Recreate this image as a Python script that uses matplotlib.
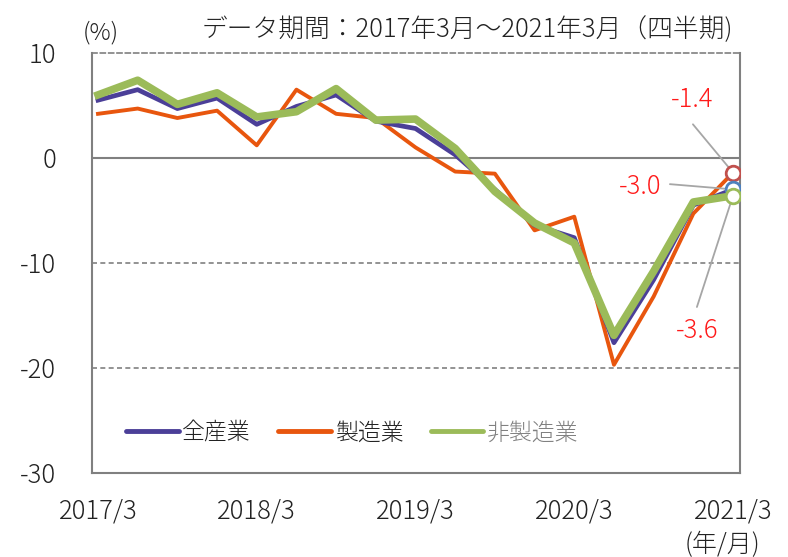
import matplotlib
matplotlib.use("Agg")
import matplotlib.pyplot as plt

plt.rcParams["font.family"] = ["Noto Sans CJK JP", "DejaVu Sans"]
plt.rcParams["font.weight"] = "light"

# data (quarterly, 2017/3 .. 2021/3)
quarters = ["2017/3", "2017/6", "2017/9", "2017/12",
            "2018/3", "2018/6", "2018/9", "2018/12",
            "2019/3", "2019/6", "2019/9", "2019/12",
            "2020/3", "2020/6", "2020/9", "2020/12",
            "2021/3"]
all_ind = [5.5, 6.5, 4.7, 5.7, 3.2, 4.9, 6.0, 3.5, 2.8, 0.3, -3.0, -6.4,
           -7.6, -17.6, -11.6, -4.5, -3.0]
manuf = [4.2, 4.7, 3.8, 4.5, 1.2, 6.5, 4.2, 3.8, 1.0, -1.3, -1.5, -6.9,
         -5.6, -19.7, -13.2, -5.3, -1.4]
non_manuf = [6.0, 7.4, 5.1, 6.2, 3.9, 4.4, 6.6, 3.6, 3.7, 0.9, -3.2, -6.2,
             -8.1, -16.9, -10.8, -4.2, -3.6]
tick_labels = ["2017/3", "2018/3", "2019/3", "2020/3", "2021/3"]

c_all = "#4B3F98"
c_man = "#E8560E"
c_non = "#9BBB59"
grey = "#808080"
txt = "#222222"

fig = plt.figure(figsize=(7.88, 5.57), dpi=100)
ax = fig.add_axes([0.1168, 0.151, 0.8225, 0.754])

x = list(range(len(quarters)))
ax.plot(x, manuf, color=c_man, lw=2.8, label="製造業", zorder=3)
ax.plot(x, all_ind, color=c_all, lw=3.4, label="全産業", zorder=4)
ax.plot(x, non_manuf, color=c_non, lw=5.5, label="非製造業", zorder=5)

last = len(quarters) - 1
for vals, mc in [(manuf, "#C0504D"), (all_ind, "#4F81BD"), (non_manuf, "#9BBB59")]:
    ax.plot(last, vals[-1], "o", ms=10.5, mfc="white", mec=mc, mew=2, zorder=6)

ax.axhline(0, color=grey, lw=1.5, zorder=2)
for yv in (-10, -20):
    ax.axhline(yv, color=grey, lw=1.2, ls=(0, (3, 2)), zorder=1)

ax.set_xlim(-0.15, 16.18)
ax.set_ylim(-30, 10)
ax.set_yticks([10, 0, -10, -20, -30])
ax.set_yticklabels(["10", "0", "-10", "-20", "-30"])
ax.set_xticks([0, 4, 8, 12, 16])
ax.set_xticklabels(tick_labels)
ax.tick_params(length=0, labelsize=18.5, colors=txt)
ax.tick_params(axis="y", pad=26)
ax.tick_params(axis="x", pad=18)

for s in ["left", "right", "bottom"]:
    ax.spines[s].set_color(grey)
    ax.spines[s].set_linewidth(1.5)
ax.spines["top"].set_color(grey)
ax.spines["top"].set_linewidth(1.2)
ax.spines["top"].set_linestyle((0, (3, 2)))

# value labels
red = "#FF1A1A"
ax.text(14.96, 5.5, "-1.4", color=red, fontsize=18.5, ha="center", va="center")
ax.annotate("", xy=(last, manuf[-1]), xytext=(14.99, 3.2),
            arrowprops=dict(arrowstyle="-", color="#A6A6A6", lw=1.3,
                            shrinkA=0, shrinkB=5))
ax.text(13.65, -2.7, "-3.0", color=red, fontsize=18.5, ha="center", va="center")
ax.annotate("", xy=(last, all_ind[-1]), xytext=(14.41, -2.5),
            arrowprops=dict(arrowstyle="-", color="#A6A6A6", lw=1.3,
                            shrinkA=0, shrinkB=4))
ax.text(15.09, -16.5, "-3.6", color=red, fontsize=18.5, ha="center", va="center")
ax.annotate("", xy=(last, non_manuf[-1]), xytext=(15.09, -14.2),
            arrowprops=dict(arrowstyle="-", color="#A6A6A6", lw=1.3,
                            shrinkA=0, shrinkB=5))

handles, labels = ax.get_legend_handles_labels()
order = [1, 0, 2]
leg = ax.legend([handles[i] for i in order], [labels[i] for i in order],
                loc="center left", bbox_to_anchor=(0.035, 0.095), ncol=3,
                frameon=False, fontsize=16.5, handlelength=2.3,
                handletextpad=0.15, columnspacing=1.2, borderpad=0)
for h in leg.get_lines():
    h.set_linewidth(3.5)
    h.set_solid_capstyle("round")
for t, col in zip(leg.get_texts(), [txt, txt, grey]):
    t.set_color(col)

fig.text(0.128, 0.94, "(%)", fontsize=17, ha="center", va="center", color=txt)
fig.text(0.593, 0.947, "データ期間：2017年3月～2021年3月（四半期)", fontsize=18.5,
         ha="center", va="center", color=txt)
fig.text(0.917, 0.022, "(年/月)", fontsize=18, ha="center", va="center", color=txt)

fig.savefig("out.png", dpi=100)
